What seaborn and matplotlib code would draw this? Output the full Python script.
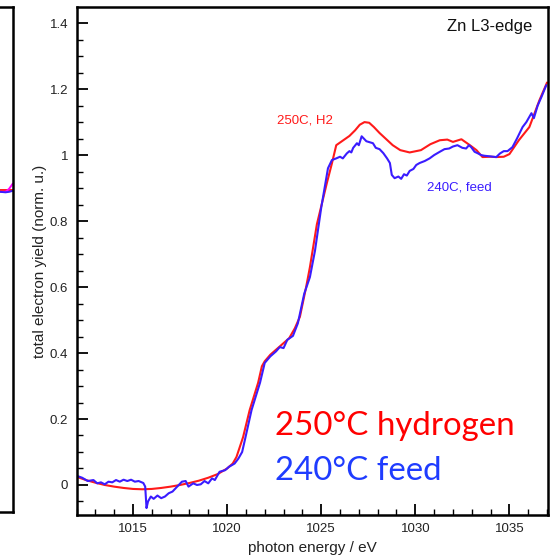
import matplotlib
matplotlib.use("Agg")
import matplotlib.pyplot as plt
import numpy as np
import pandas as pd
import seaborn as sns
from matplotlib.ticker import MultipleLocator, FuncFormatter

# Zn L3-edge TEY spectra
energy_h2 = [1012.0, 1012.5, 1013.0, 1013.5, 1014.0, 1014.5, 1015.0, 1015.5, 1016.0, 1016.5,
             1017.0, 1017.5, 1018.0, 1018.5, 1019.0, 1019.5, 1020.0, 1020.3, 1020.5, 1020.85,
             1021.2, 1021.65, 1021.85, 1022.0, 1022.3, 1022.8, 1023.3, 1023.6, 1023.87, 1024.2,
             1024.4, 1024.77, 1025.3, 1025.57, 1025.8, 1026.1, 1026.5, 1026.8, 1027.05, 1027.3,
             1027.55, 1027.8, 1028.1, 1028.8, 1029.2, 1029.7, 1030.3, 1030.8, 1031.3, 1031.7,
             1032.0, 1032.45, 1032.9, 1033.25, 1033.57, 1034.0, 1034.3, 1034.7, 1035.0, 1035.5,
             1036.06, 1036.6, 1037.0]
yield_h2 = [0.025, 0.015, 0.007, 0.0, -0.005, -0.009, -0.012, -0.013, -0.012, -0.009,
            -0.005, 0.0, 0.006, 0.013, 0.022, 0.033, 0.05, 0.065, 0.085, 0.145,
            0.227, 0.31, 0.36, 0.375, 0.395, 0.42, 0.445, 0.475, 0.51, 0.6,
            0.66, 0.79, 0.915, 0.975, 1.03, 1.042, 1.058, 1.075, 1.092, 1.10,
            1.098, 1.085, 1.067, 1.03, 1.015, 1.008, 1.015, 1.033, 1.045, 1.047,
            1.04, 1.048, 1.03, 1.015, 0.994, 0.995, 0.994, 0.995, 1.003, 1.045,
            1.085, 1.167, 1.22]

energy_feed = [1012.0, 1012.3, 1012.6, 1012.9, 1013.1, 1013.3, 1013.5, 1013.7, 1013.9, 1014.1,
               1014.3, 1014.5, 1014.7, 1014.9, 1015.1, 1015.3, 1015.55, 1015.65, 1015.72, 1015.8,
               1015.95, 1016.1, 1016.3, 1016.5, 1016.7, 1016.9, 1017.1, 1017.35, 1017.6, 1017.8,
               1017.95, 1018.2, 1018.4, 1018.6, 1018.8, 1019.0, 1019.2, 1019.35, 1019.6, 1019.9,
               1020.1, 1020.4, 1020.6, 1020.8, 1020.96, 1021.3, 1021.75, 1022.0, 1022.3, 1022.6,
               1022.8, 1023.0, 1023.2, 1023.5, 1023.76, 1024.1, 1024.4, 1024.67, 1025.0, 1025.36,
               1025.57, 1025.8, 1026.0, 1026.15, 1026.36, 1026.5, 1026.6, 1026.7, 1026.9, 1027.0,
               1027.15, 1027.4, 1027.75, 1027.9, 1028.1, 1028.3, 1028.5, 1028.65, 1028.75, 1028.9,
               1029.1, 1029.25, 1029.4, 1029.55, 1029.7, 1029.9, 1030.05, 1030.23, 1030.5, 1030.76,
               1031.0, 1031.3, 1031.55, 1031.8, 1032.0, 1032.24, 1032.5, 1032.7, 1032.85, 1032.97,
               1033.15, 1033.3, 1033.5, 1033.67, 1034.0, 1034.3, 1034.5, 1034.7, 1034.9, 1035.16,
               1035.4, 1035.7, 1035.9, 1036.17, 1036.3, 1036.5, 1036.7, 1036.96]
yield_feed = [0.028, 0.022, 0.012, 0.015, 0.005, 0.008, 0.002, 0.01, 0.008, 0.015,
              0.01, 0.016, 0.012, 0.016, 0.01, 0.012, 0.006, -0.005, -0.07, -0.05,
              -0.035, -0.042, -0.032, -0.04, -0.035, -0.025, -0.02, -0.005, 0.01, 0.012,
              -0.005, 0.005, 0.0, 0.002, 0.012, 0.005, 0.02, 0.015, 0.04, 0.045,
              0.055, 0.065, 0.08, 0.1, 0.14, 0.227, 0.31, 0.37, 0.39, 0.405,
              0.418, 0.415, 0.44, 0.452, 0.49, 0.58, 0.63, 0.71, 0.84, 0.96,
              0.985, 0.99, 0.995, 0.99, 1.005, 1.012, 1.008, 1.022, 1.036, 1.03,
              1.057, 1.042, 1.036, 1.022, 1.018, 1.006, 0.99, 0.976, 0.94, 0.93,
              0.935, 0.928, 0.942, 0.938, 0.952, 0.958, 0.97, 0.976, 0.982, 0.99,
              1.0, 1.01, 1.018, 1.02, 1.026, 1.03, 1.022, 1.02, 1.03, 1.024,
              1.01, 1.006, 1.0, 0.998, 0.996, 0.994, 1.005, 1.012, 1.012, 1.024,
              1.05, 1.085, 1.1, 1.127, 1.112, 1.15, 1.176, 1.212]

# tail end of the neighbouring panel's spectra
side_x = [0.93, 0.96, 0.98, 1.0]
side_red = [0.638, 0.638, 0.638, 0.638]
side_blue = [0.634, 0.633, 0.634, 0.636]
side_magenta = [0.634, 0.634, 0.640, 0.650]

RED = "#ff1a1a"
BLUE = "#3a1cff"

sns.set_theme(style="ticks")
plt.rcParams["font.family"] = ["Liberation Sans", "DejaVu Sans"]

W, H = 554, 558
fig = plt.figure(figsize=(W / 100, H / 100), dpi=100)

# neighbouring panel, mostly off-canvas
ax0 = fig.add_axes([-0.3, (H - 512) / H, 0.3 + 12.7 / W, (512 - 7) / H])
for yv, c in [(side_red, RED), (side_magenta, "#ff00ff"), (side_blue, BLUE)]:
    sns.lineplot(x=side_x, y=yv, ax=ax0, color=c, lw=1.4)
ax0.set_xlim(0, 1)
ax0.set_ylim(0, 1)
ax0.set_xticks([])
ax0.set_yticks([])
for s in ax0.spines.values():
    s.set_linewidth(1.8)
    s.set_color("black")

ax = fig.add_axes([76.5 / W, 43 / H, (548 - 76.5) / W, (515 - 7.3) / H])
df_h2 = pd.DataFrame({"energy": energy_h2, "tey": yield_h2})
df_feed = pd.DataFrame({"energy": energy_feed, "tey": yield_feed})
sns.lineplot(data=df_h2, x="energy", y="tey", ax=ax, color=RED, lw=1.5)
sns.lineplot(data=df_feed, x="energy", y="tey", ax=ax, color=BLUE, lw=1.5)

ax.set_xlim(1012, 1037.05)
ax.set_ylim(-0.091, 1.448)
ax.xaxis.set_major_locator(MultipleLocator(5))
ax.xaxis.set_minor_locator(MultipleLocator(1))
ax.yaxis.set_major_locator(MultipleLocator(0.2))
ax.yaxis.set_minor_locator(MultipleLocator(0.05))
ax.yaxis.set_major_formatter(FuncFormatter(lambda v, p: f"{v:g}" if abs(v) > 1e-9 else "0"))
ax.tick_params(which="both", direction="in", top=False, right=False, color="black",
               labelsize=9.5, labelcolor="#222222")
ax.tick_params(which="major", length=8, width=1.3, pad=6)
ax.tick_params(which="minor", length=4, width=1.0)
for s in ax.spines.values():
    s.set_linewidth(1.8)
    s.set_color("black")

ax.set_xlabel("photon energy / eV", fontsize=11, color="#222222")
ax.set_ylabel("total electron yield (norm. u.)", fontsize=11, color="#222222")
ax.xaxis.set_label_coords(0.5, -0.051)
ax.yaxis.set_label_coords(-0.062, 0.5)

ax.text(1024.16, 1.106, "250C, H2", color=RED, fontsize=9.5, ha="center", va="center")
ax.text(1032.35, 0.903, "240C, feed", color=BLUE, fontsize=9.5, ha="center", va="center")
ax.text(0.966, 0.963, "Zn L3-edge", transform=ax.transAxes, fontsize=12,
        ha="right", va="center", color="#111111")

ax.text(0.421, 0.1576, "250°C hydrogen", transform=ax.transAxes, fontsize=23.8,
        family=["Lato", "DejaVu Sans"], color="#ff0000", ha="left", va="baseline")
ax.text(0.421, 0.069, "240°C feed", transform=ax.transAxes, fontsize=23.8,
        family=["Lato", "DejaVu Sans"], color="#1f3cff", ha="left", va="baseline")

fig.savefig("out.png", dpi=100)
